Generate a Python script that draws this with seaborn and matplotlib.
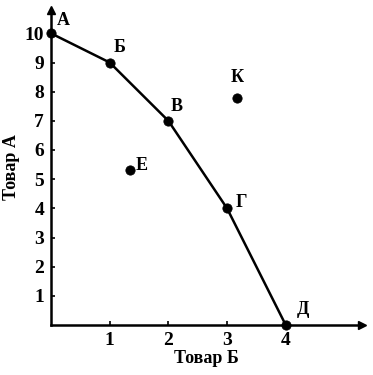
import matplotlib
matplotlib.use("Agg")
import matplotlib.pyplot as plt
import seaborn as sns
import pandas as pd

# Production possibility frontier points
frontier_labels = ["А", "Б", "В", "Г", "Д"]
goods_b = [0, 1, 2, 3, 4]
goods_a = [10, 9, 7, 4, 0]

# Points off the frontier
extra_labels = ["К", "Е"]
extra_b = [3.17, 1.34]
extra_a = [7.8, 5.3]

x_ticks = [1, 2, 3, 4]
y_ticks = [1, 2, 3, 4, 5, 6, 7, 8, 9, 10]

sns.set_theme(style="ticks")
plt.rcParams["font.family"] = ["Liberation Serif", "DejaVu Serif"]
plt.rcParams["text.color"] = "black"
plt.rcParams["axes.labelcolor"] = "black"

fig = plt.figure(figsize=(3.73, 3.75), dpi=100)
ax = fig.add_axes([51 / 373, 50 / 375, 311 / 373, 315 / 375])

df_f = pd.DataFrame({"b": goods_b, "a": goods_a, "lab": frontier_labels})
df_e = pd.DataFrame({"b": extra_b, "a": extra_a, "lab": extra_labels})

sns.lineplot(data=df_f, x="b", y="a", ax=ax, color="black", lw=1.8, sort=False,
             clip_on=False)
sns.scatterplot(data=df_f, x="b", y="a", ax=ax, color="black", s=45,
                edgecolor="black", clip_on=False, zorder=5)
sns.scatterplot(data=df_e, x="b", y="a", ax=ax, color="black", s=45,
                edgecolor="black", clip_on=False, zorder=5)

offsets = {"А": (12, 13), "Б": (10, 15), "В": (8, 14), "Г": (14, 6),
           "Д": (17, 15), "К": (0, 20), "Е": (12, 5)}
for df in (df_f, df_e):
    for _, r in df.iterrows():
        ax.annotate(r["lab"], (r["b"], r["a"]), xytext=offsets[r["lab"]],
                    textcoords="offset pixels", ha="center", va="center",
                    fontsize=13, fontweight="bold", color="black")

ax.set_xlim(0, 5.3)
ax.set_ylim(0, 10.8)
ax.set_xticks(x_ticks)
ax.set_yticks(y_ticks)
ax.set_xticklabels([str(v) for v in x_ticks], fontsize=14, fontweight="bold")
ax.set_yticklabels([str(v) for v in y_ticks], fontsize=14, fontweight="bold")
ax.tick_params(direction="in", length=3, width=1.2, colors="black", pad=5)
for s in ["top", "right"]:
    ax.spines[s].set_visible(False)
for s in ["left", "bottom"]:
    ax.spines[s].set_linewidth(1.8)
    ax.spines[s].set_color("black")

# axis arrows
ax.plot(1, 0, ">", color="black", ms=6, transform=ax.transAxes, clip_on=False)
ax.plot(0, 1, "^", color="black", ms=6, transform=ax.transAxes, clip_on=False)

ax.set_xlabel("Товар Б", fontsize=13, fontweight="bold", labelpad=1)
ax.set_ylabel("Товар А", fontsize=13, fontweight="bold", labelpad=3)

fig.savefig("out.png", dpi=100)
